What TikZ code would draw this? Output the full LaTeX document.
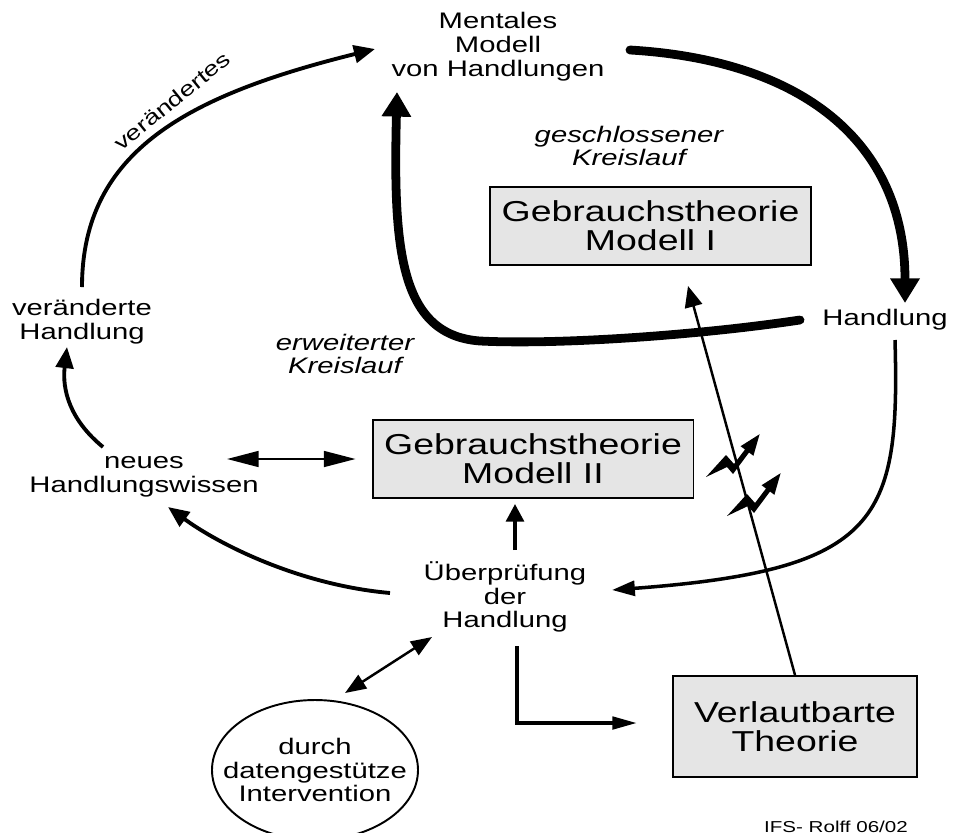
\documentclass[tikz,border=0pt]{standalone}
\usepackage{fontspec}
\setmainfont{Liberation Sans}[FakeStretch=1.3]
\usetikzlibrary{arrows.meta,calc}

\definecolor{boxgray}{gray}{0.9}

\tikzset{
  textnode/.style={align=center, inner sep=0pt, font=\fontsize{12.8}{13.6}\selectfont},
  cyclenote/.style={textnode, font=\fontsize{12.8}{13.6}\selectfont\itshape},
  theory/.style={draw, line width=1.1pt, fill=boxgray, align=center, inner sep=0pt,
    font=\fontsize{16.4}{16.4}\selectfont, minimum width=6.42cm, minimum height=1.56cm},
  bigflow/.style={line width=5pt, line cap=round, -{Triangle[length=14pt,width=16pt]}},
  flow/.style={line width=2.2pt, -{Triangle[length=12pt,width=10pt]}},
  thinflow/.style={line width=1.4pt, -{Triangle[length=12pt,width=10pt]}},
  duo/.style={line width=1.2pt, {Triangle[length=18pt,width=9pt]}-{Triangle[length=18pt,width=9pt]}},
  bolt/.pic={
    \fill (0,0) -- (20,-22) -- (28,-13) -- (39,-27.5) -- (34.6,-30.8) -- (53.6,-42.8)
      -- (47.4,-21.2) -- (43,-24.5) -- (27,-3) -- (21,-10) -- cycle;
  }
}

\begin{document}
\begin{tikzpicture}[x=0.02cm, y=-0.02cm]
\useasboundingbox (0,0) rectangle (956,832);
\clip (0,0) rectangle (956,832);
% text nodes
\node[textnode] (mental) at (498,47) {Mentales\\Modell\\von Handlungen};
\node[cyclenote] (closed) at (629,146) {geschlossener\\Kreislauf};
\node[textnode] (action) at (885,320) {Handlung};
\node[textnode] (changed) at (82,322) {veränderte\\Handlung};
\node[cyclenote] (wide) at (345,354) {erweiterter\\Kreislauf};
\node[textnode] (knowhow) at (144,477) {neues\\Handlungswissen};
\node[textnode] (review) at (505,597) {Überprüfung\\der\\Handlung};
\node[textnode, font=\fontsize{11.8}{12}\selectfont, rotate=39] (changedlabel) at (172,101) {verändertes};
% boxes
\node[theory] (modelone) at (650.5,226) {Gebrauchstheorie\\Modell I};
\node[theory] (modeltwo) at (533,459) {Gebrauchstheorie\\Modell II};
\node[theory, minimum width=4.88cm, minimum height=2.02cm] (espoused) at (795,726.5) {Verlautbarte\\Theorie};
% ellipse
\node[textnode] (data) at (315,770) {durch\\datengestütze\\Intervention};
\draw[line width=1.1pt] (data) ellipse [x radius=103, y radius=70];
% closed loop
\draw[bigflow] ($(mental)+(132,3)$) .. controls +(170,10) and +(0,-163) .. ($(action)+(20,-17)$);
\draw[bigflow] ($(action)+(-85,0)$) .. controls +(-100,15) and +(80,4) .. ($(mental)+(-18,294)$)
  .. controls +(-80,-6) and +(-4,158) .. ($(mental)+(-101,45)$);
% extended loop
\draw[flow] ($(changed)+(0,-35)$) .. controls +(0,-137) and +(-185,46) .. ($(mental)+(-123,2)$);
\draw[flow] ($(knowhow)+(-41,-30)$) .. controls +(-33,-27) and +(-5,43) .. ($(changed)+(-15,25)$);
\draw[duo] ($(knowhow)+(83,-18)$) -- ($(modeltwo.west)+(-16,0)$);
\draw[flow] ($(review)+(-115,-4)$) .. controls +(-90,-8) and +(52,38) .. ($(knowhow)+(24,30)$);
\draw[flow, -{Triangle[length=10pt,width=10pt]}] ($(review)+(10,-47)$) -- ($(modeltwo.south)+(-18,5)$);
\draw[flow, line width=2pt, -{Triangle[length=13pt,width=8.5pt]}] ($(action)+(10,20)$) .. controls +(5,180) and +(268,-20) .. ($(review)+(107,-7)$);
\draw[duo, line width=1.4pt, {Triangle[length=12pt,width=9pt]}-{Triangle[length=12pt,width=9pt]}] ($(review)+(-73,40)$) -- ($(data)+(30,-77)$);
\draw[flow, -{Triangle[length=14pt,width=7pt]}] ($(review)+(12,49)$) |- ($(espoused.west)+(-35,-3.5)$);
% espoused theory
\draw[thinflow] (espoused.north) -- ($(modelone.south)+(37.5,20)$);
\pic at (706,477) {bolt};
\pic at (727,516) {bolt};
\node[font=\fontsize{9}{9}\selectfont, anchor=north] (credit) at (836,815) {IFS- Rolff 06/02};
\end{tikzpicture}
\end{document}
